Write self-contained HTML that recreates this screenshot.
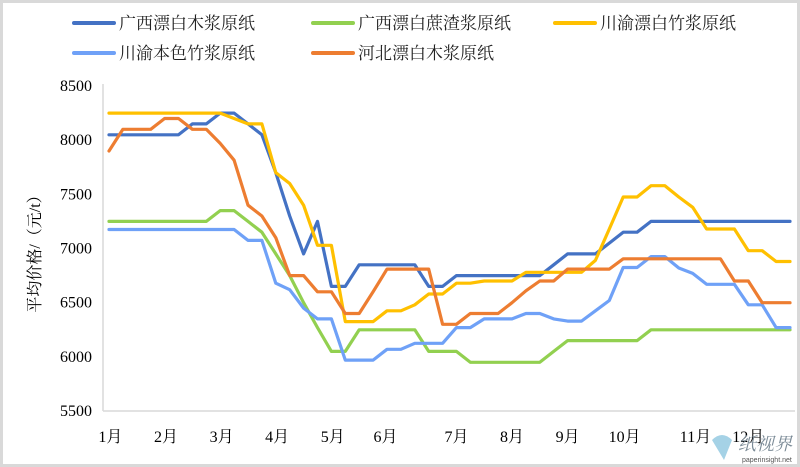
<!DOCTYPE html>
<html><head><meta charset="utf-8"><style>
html,body{margin:0;padding:0;background:#fff}
#wrap{width:800px;height:467px;position:relative;overflow:hidden}
svg text{font-family:"Liberation Serif","Noto Serif CJK SC",serif}
</style></head><body>
<div id="wrap">
<svg id="chart" width="800" height="467"></svg>
</div>
<script>
const categories = Array.from({length:50},(_,i)=>i);
const monthLabels = ["1月","2月","3月","4月","5月","6月","7月","8月","9月","10月","11月","12月"];
const monthPos = [0.1,4.1,8.1,12.1,16.1,19.9,25,29,33,37.1,42.2,46];
const yTicks = [5500,6000,6500,7000,7500,8000,8500];
const seriesNames = ["广西漂白木浆原纸","广西漂白蔗渣浆原纸","川渝漂白竹浆原纸","川渝本色竹浆原纸","河北漂白木浆原纸"];
const seriesColors = ["#4472c4","#92d050","#ffc000","#6fa1f7","#ed7d31"];
const gxWood = [8050,8050,8050,8050,8050,8050,8150,8150,8250,8250,8150,8050,7700,7300,6950,7250,6650,6650,6850,6850,6850,6850,6850,6650,6650,6750,6750,6750,6750,6750,6750,6750,6850,6950,6950,6950,7050,7150,7150,7250,7250,7250,7250,7250,7250,7250,7250,7250,7250,7250];
const gxBagasse = [7250,7250,7250,7250,7250,7250,7250,7250,7350,7350,7250,7150,6950,6750,6500,6270,6050,6050,6250,6250,6250,6250,6250,6050,6050,6050,5950,5950,5950,5950,5950,5950,6050,6150,6150,6150,6150,6150,6150,6250,6250,6250,6250,6250,6250,6250,6250,6250,6250,6250];
const cyBamboo = [8250,8250,8250,8250,8250,8250,8250,8250,8250,8200,8150,8150,7700,7600,7400,7030,7030,6325,6325,6325,6425,6425,6480,6580,6580,6680,6680,6700,6700,6700,6780,6780,6780,6780,6780,6890,7180,7475,7475,7580,7580,7475,7380,7180,7180,7180,6980,6980,6880,6880];
const cyNatural = [7175,7175,7175,7175,7175,7175,7175,7175,7175,7175,7075,7075,6680,6620,6450,6350,6350,5970,5970,5970,6070,6070,6125,6125,6125,6270,6270,6350,6350,6350,6400,6400,6350,6330,6330,6425,6520,6825,6825,6925,6925,6820,6770,6670,6670,6670,6480,6480,6270,6270];
const hbWood = [7900,8100,8100,8100,8200,8200,8100,8100,7970,7815,7400,7300,7100,6750,6750,6600,6600,6400,6400,6600,6810,6810,6810,6810,6300,6300,6400,6400,6400,6500,6610,6700,6700,6810,6810,6810,6810,6905,6905,6905,6905,6905,6905,6905,6905,6700,6700,6500,6500,6500];
const allSeries = [gxWood,gxBagasse,cyBamboo,cyNatural,hbWood];

const NS="http://www.w3.org/2000/svg";
const svg=document.getElementById('chart');
const X0=109, X1=790, Y0=411, Y1=86, VMIN=5500, VMAX=8500;
const xScale=i=>X0+(X1-X0)*i/(categories.length-1);
const yScale=v=>Y0-(v-VMIN)/(VMAX-VMIN)*(Y0-Y1);
function mk(tag,attrs,parent){const e=document.createElementNS(NS,tag);for(const k in attrs)e.setAttribute(k,attrs[k]);(parent||svg).appendChild(e);return e;}

const frame=mk('rect',{x:1.5,y:1.5,width:797,height:464,fill:'#fff',stroke:'#d9d9d9','stroke-width':3});



const yAxis=mk('line',{x1:103,y1:84,x2:103,y2:Y0,stroke:'#d9d9d9','stroke-width':1.5});


const xAxis=mk('line',{x1:103,y1:Y0,x2:795,y2:Y0,stroke:'#d9d9d9','stroke-width':1.5});



yTicks.forEach(v=>{
  const t=mk('text',{x:92,y:yScale(v)+5,'text-anchor':'end','font-size':16,fill:'#000'});
  t.textContent=v;
  
  
});
monthLabels.forEach((m,i)=>{
  const t=mk('text',{x:xScale(monthPos[i]),y:442,'text-anchor':'middle','font-size':16,fill:'#000'});
  t.textContent=m;
  
  
});
const yt=mk('text',{x:0,y:0,transform:'translate(40,250) rotate(-90)','text-anchor':'middle','font-size':16,fill:'#000'});
yt.textContent='平均价格/（元/t）';



allSeries.forEach((s,si)=>{
  const d=s.map((v,i)=>(i?'L':'M')+xScale(categories[i]).toFixed(1)+','+yScale(v).toFixed(1)).join(' ');
  const p=mk('path',{d:d,fill:'none',stroke:seriesColors[si],'stroke-width':3.2,'stroke-linejoin':'round','stroke-linecap':'round'});
  
  
});

const legPos=[[74,23],[313,23],[555,23],[74,53],[313,53]];
seriesNames.forEach((n,i)=>{
  const g=mk('g',{});
  
  
  const [lx,ly]=legPos[i];
  mk('line',{x1:lx,y1:ly,x2:lx+40,y2:ly,stroke:seriesColors[i],'stroke-width':4,'stroke-linecap':'round'},g);
  const t=mk('text',{x:lx+45,y:ly+6,'font-size':17,fill:'#222'},g);
  t.textContent=n;
});

const wm=mk('text',{x:738,y:450,'font-size':18,fill:'#7a8a96','font-style':'italic'});
wm.textContent='纸视界';


const wm2=mk('text',{x:742,y:462,'font-size':7,fill:'#555',style:'font-family:"Liberation Sans",sans-serif'});
wm2.textContent='paperinsight.net';


const wmIcon=mk('path',{d:'M712,440 q10,-10 20,0 l-8,20 z',fill:'#8fc7e0',opacity:0.8});


</script>
</body></html>
